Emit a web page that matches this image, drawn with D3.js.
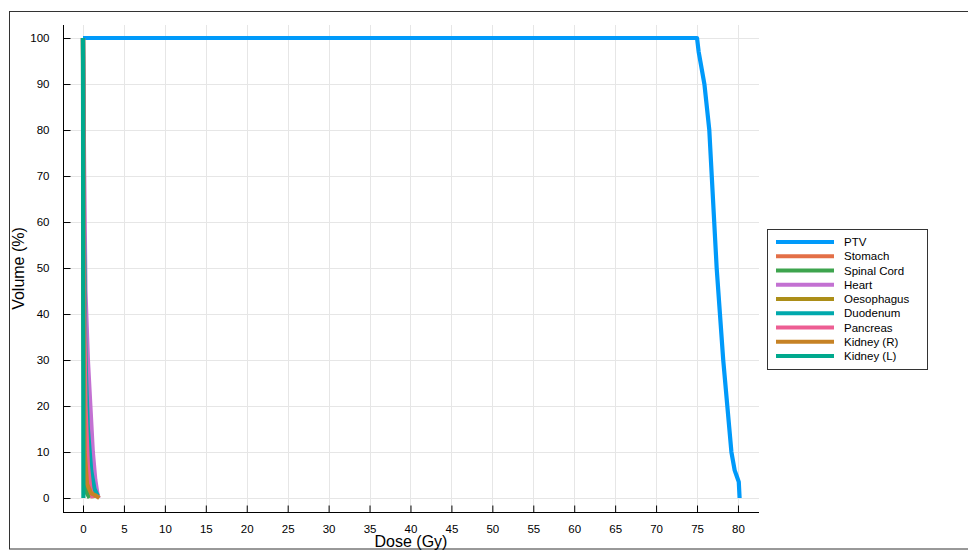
<!DOCTYPE html>
<html>
<head>
<meta charset="utf-8">
<script src="https://cdn.jsdelivr.net/npm/d3@7"></script>
<style>
  html, body { margin: 0; padding: 0; background: #fff; }
  svg { display: block; font-family: "Liberation Sans", Arial, Helvetica, sans-serif; }
</style>
</head>
<body>
<svg id="chart" width="968" height="550"></svg>
<script>
// Cumulative dose-volume histogram: dose (Gy) against volume (%)
const seriesNames = ["PTV", "Stomach", "Spinal Cord", "Heart", "Oesophagus",
                     "Duodenum", "Pancreas", "Kidney (R)", "Kidney (L)"];

const ptvDose   = [0, 75, 75.2, 75.5, 75.9, 76.2, 76.5, 76.8, 77.1, 77.4, 77.8, 78.2, 78.7, 79.2, 79.6, 79.9, 80.1, 80.2];
const ptvVolume = [100, 100, 97, 94, 90, 85, 80, 70, 60, 50, 40, 30, 20, 10, 6, 4.5, 3.5, 0];

const stomachDose   = [0, 0.1, 0.3, 0.6, 0.9, 1.2];
const stomachVolume = [100, 60, 25, 8, 2, 0];

const cordDose   = [0, 0.05, 0.2, 0.5, 0.8];
const cordVolume = [100, 50, 10, 1, 0];

const heartDose   = [0, 0.15, 0.3, 0.6, 0.9, 1.2, 1.5, 1.75, 1.9];
const heartVolume = [100, 70, 45, 30, 20, 10, 4, 1, 0];

const oesophagusDose   = [0, 0.1, 0.3, 0.6, 1.0, 1.4];
const oesophagusVolume = [100, 55, 25, 10, 3, 0];

const duodenumDose   = [0, 0.1, 0.3, 0.6, 1.0, 1.4, 1.8];
const duodenumVolume = [100, 60, 30, 15, 6, 2, 0.5];

const pancreasDose   = [0, 0.1, 0.3, 0.6, 0.9, 1.2];
const pancreasVolume = [100, 50, 20, 7, 2, 0];

const kidneyRDose   = [0, 0.05, 0.2, 0.5, 1.0, 1.6, 2.0];
const kidneyRVolume = [100, 40, 10, 3, 1, 0.5, 0];

const kidneyLDose   = [0, 0.02, 0.05];
const kidneyLVolume = [100, 50, 0];

const doseTicks   = d3.range(0, 81, 5);
const volumeTicks = d3.range(0, 101, 10);

const palette = ["#009AFA", "#E36F47", "#3EA44E", "#C371D2", "#AC8E18",
                 "#00A9AD", "#ED5E93", "#C68225", "#00A98D"];

const doseArrays   = [ptvDose, stomachDose, cordDose, heartDose, oesophagusDose,
                      duodenumDose, pancreasDose, kidneyRDose, kidneyLDose];
const volumeArrays = [ptvVolume, stomachVolume, cordVolume, heartVolume, oesophagusVolume,
                      duodenumVolume, pancreasVolume, kidneyRVolume, kidneyLVolume];

const series = seriesNames.map((name, i) => ({
  name,
  color: palette[i],
  points: doseArrays[i].map((d, j) => ({ dose: d, volume: volumeArrays[i][j] }))
}));

const svg = d3.select("#chart");

// outer frame
svg.append("rect")
  .attr("x", 9.5).attr("y", 11.5)
  .attr("width", 1000).attr("height", 537.5)
  .attr("fill", "none").attr("stroke", "#333").attr("stroke-width", 1);

const plot = { left: 63, right: 759, top: 25, bottom: 512 };

const x = d3.scaleLinear()
  .domain([-2.443, 82.57])
  .range([plot.left, plot.right]);
const y = d3.scaleLinear()
  .domain([-3.04, 102.83])
  .range([plot.bottom, plot.top]);

// grid
const grid = svg.append("g").attr("stroke", "#e6e6e6").attr("stroke-width", 1);
grid.selectAll("line.vx").data(doseTicks).join("line")
  .attr("x1", d => Math.round(x(d)) + 0.5).attr("x2", d => Math.round(x(d)) + 0.5)
  .attr("y1", plot.top).attr("y2", plot.bottom);
grid.selectAll("line.hy").data(volumeTicks).join("line")
  .attr("y1", d => Math.round(y(d)) + 0.5).attr("y2", d => Math.round(y(d)) + 0.5)
  .attr("x1", plot.left).attr("x2", plot.right);

// axes: ticks point into the plot area
const xAxis = d3.axisBottom(x).tickValues(doseTicks).tickSizeInner(-7).tickSizeOuter(0).tickPadding(12);
const yAxis = d3.axisLeft(y).tickValues(volumeTicks).tickSizeInner(-7).tickSizeOuter(0).tickPadding(14);

const gx = svg.append("g").attr("transform", `translate(0,${plot.bottom + 0.5})`).call(xAxis);
gx.select(".domain").attr("d", `M${plot.left},0H${plot.right}`).attr("stroke", "#000");
gx.selectAll(".tick line").attr("stroke", "#000");
gx.selectAll("text").attr("font-size", 11.5).attr("fill", "#000").attr("font-family", "Liberation Sans, Arial, sans-serif");

const gy = svg.append("g").attr("transform", `translate(${plot.left + 0.5},0)`).call(yAxis);
gy.select(".domain").attr("d", `M0,${plot.top}V${plot.bottom}`).attr("stroke", "#000");
gy.selectAll(".tick line").attr("stroke", "#000");
gy.selectAll("text").attr("font-size", 11.5).attr("fill", "#000").attr("font-family", "Liberation Sans, Arial, sans-serif");

// axis titles
svg.append("text")
  .attr("x", (plot.left + plot.right) / 2).attr("y", 547)
  .attr("text-anchor", "middle").attr("font-size", 16).attr("fill", "#000")
  .text("Dose (Gy)");
svg.append("text")
  .attr("transform", `translate(24,${(plot.top + plot.bottom) / 2}) rotate(-90)`)
  .attr("text-anchor", "middle").attr("font-size", 16).attr("fill", "#000")
  .text("Volume (%)");

// DVH curves
const line = d3.line().x(d => x(d.dose)).y(d => y(d.volume));
svg.append("g").selectAll("path").data(series).join("path")
  .attr("d", d => line(d.points))
  .attr("fill", "none")
  .attr("stroke", d => d.color)
  .attr("stroke-width", 4.2)
  .attr("stroke-linejoin", "round");

// legend
const legend = svg.append("g");
legend.append("rect")
  .attr("x", 767.5).attr("y", 229.5).attr("width", 160).attr("height", 140)
  .attr("fill", "#fff").attr("stroke", "#333").attr("stroke-width", 1);
const rows = legend.selectAll("g.row").data(series).join("g")
  .attr("transform", (d, i) => `translate(0,${242 + i * 14.25})`);
rows.append("line")
  .attr("x1", 776).attr("x2", 834).attr("y1", 0).attr("y2", 0)
  .attr("stroke", d => d.color).attr("stroke-width", 4.2);
rows.append("text")
  .attr("x", 844).attr("y", 4).attr("font-size", 11.5).attr("fill", "#000")
  .text(d => d.name);
</script>
</body>
</html>
